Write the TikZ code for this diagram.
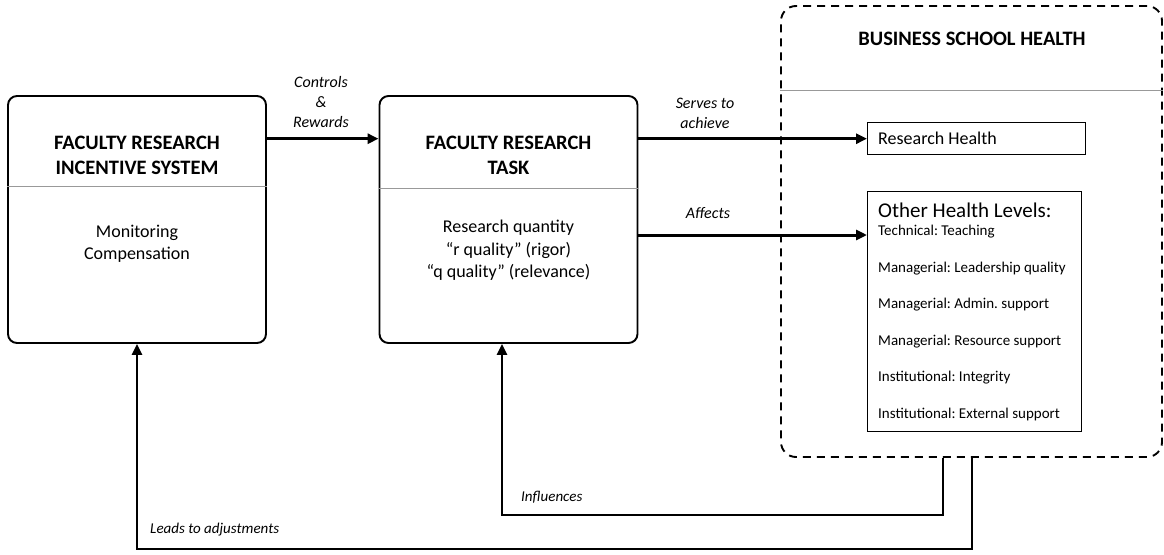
\documentclass[tikz,border=0pt]{standalone}
\usepackage{fontspec}
\setmainfont{Carlito}
\usetikzlibrary{arrows.meta}
\frenchspacing
\begin{document}
\begin{tikzpicture}[x=1pt,y=-1pt,
 mainbox/.style={draw,line width=1.9pt,rounded corners=9pt,minimum width=258pt,minimum height=247pt,inner sep=0pt},
 arr/.style={line width=3pt,-{Triangle[length=11pt,width=10pt]}},
 fb/.style={line width=2.7pt,-{Triangle[length=11pt,width=10pt]}},
 lab/.style={font=\fontsize{16}{20}\selectfont\itshape,align=center,inner sep=0pt},
 fblab/.style={font=\fontsize{15}{18}\selectfont\itshape,anchor=west,inner sep=0pt},
 ttl/.style={font=\fontsize{20.5}{25}\selectfont\bfseries,align=center,inner sep=0pt},
 body/.style={font=\fontsize{18}{22.5}\selectfont,align=center,inner sep=0pt},
 div/.style={draw=gray!80,line width=0.9pt},
 item/.style={anchor=west,font=\fontsize{15}{18}\selectfont,inner sep=0pt},
 hbox/.style={draw,line width=1.4pt,inner sep=0pt}]
\useasboundingbox (0,0) rectangle (1164,554);

% outer dashed region
\node[draw,dash pattern=on 8pt off 6pt,line width=1.9pt,rounded corners=15pt,
      minimum width=381pt,minimum height=451pt,inner sep=0pt] (bsh) at (971.5,231.5) {};
\coordinate (hdr) at (0,90);
\draw[div] (bsh.west |- hdr) -- (bsh.east |- hdr);
\node[ttl] (bshT) at (972,39) {BUSINESS SCHOOL HEALTH};

% main boxes
\node[mainbox] (inc) at (137,219.5) {};
\node[mainbox] (task) at (508.5,219.5) {};
\coordinate (d1) at (0,186);
\coordinate (d2) at (0,188);
\draw[div] (inc.west |- d1) -- (inc.east |- d1);
\draw[div] (task.west |- d2) -- (task.east |- d2);
\node[ttl] (incT) at (137,155.5) {FACULTY RESEARCH\\INCENTIVE SYSTEM};
\node[body] (incB) at (137,244) {Monitoring\\Compensation};
\node[ttl] (taskT) at (508.5,155.5) {FACULTY RESEARCH\\TASK};
\node[body] (taskB) at (508.5,250.5) {Research quantity\\“r quality” (rigor)\\“q quality” (relevance)};

% health boxes
\node[hbox,anchor=north west,minimum width=218pt,minimum height=32pt] (rh) at (867,122) {};
\node[anchor=west,font=\fontsize{18}{22}\selectfont,inner sep=0pt] (rhT) at (878,138.5) {Research Health};
\node[hbox,anchor=north west,minimum width=214pt,minimum height=240pt] (oh) at (867,191) {};
\node[anchor=west,font=\fontsize{21}{25}\selectfont,inner sep=0pt] (ohT) at (878,210) {Other Health Levels:};
\node[item] (i1) at (878,232) {Technical: Teaching};
\node[item] (i2) at (878,268.5) {Managerial: Leadership quality};
\node[item] (i3) at (878,305) {Managerial: Admin. support};
\node[item] (i4) at (878,341.5) {Managerial: Resource support};
\node[item] (i5) at (878,378) {Institutional: Integrity};
\node[item] (i6) at (878,414.5) {Institutional: External support};

% forward arrows
\draw[arr] (inc.east |- rh.west) -- (task.west |- rh.west);
\draw[arr] (task.east |- rh.west) -- (rh.west);
\coordinate (affy) at (0,235);
\draw[arr] (task.east |- affy) -- (oh.west |- affy);
\node[lab] (lCtrl) at (321,102) {Controls\\\&\\Rewards};
\node[lab] (lServ) at (705,113) {Serves to\\achieve};
\node[lab] (lAff) at (708,213) {Affects};

% feedback arrows
\coordinate (infx) at (943,515);
\coordinate (infl) at (502,515);
\draw[fb] (bsh.south -| infx) -- (infx) -- (infl) -- (task.south -| infl);
\coordinate (ldx) at (972,549);
\draw[fb] (bsh.south -| ldx) -- (ldx) -| (inc.south);
\node[fblab] (lInf) at (521,497) {Influences};
\node[fblab] (lLead) at (150,530) {Leads to adjustments};
\end{tikzpicture}
\end{document}
